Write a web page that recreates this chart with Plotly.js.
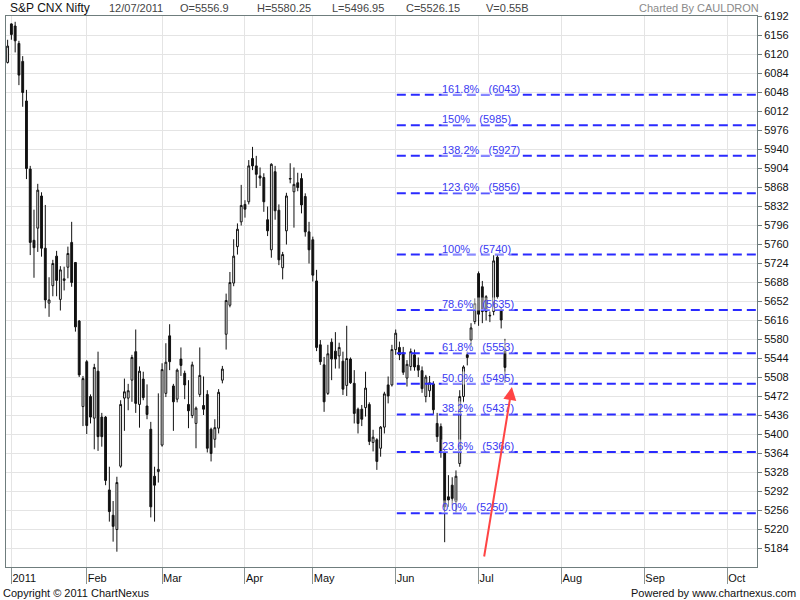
<!DOCTYPE html>
<html>
<head>
<meta charset="utf-8">
<script src="https://cdn.plot.ly/plotly-3.0.1.min.js"></script>
<style>html,body{margin:0;padding:0;background:#fff;}#chart{width:800px;height:600px;}</style>
</head>
<body>
<div id="chart"></div>
<script>
// Daily OHLC, S&P CNX Nifty, 31 Dec 2010 .. 12 Jul 2011 (trading-day order)
const openVals = [
6104,
6177,6173,6140,6106,6031,5902,5767,5790,5851,5752,5648,5681,5737,5655,5691,5716,5763,5725,5614,5452,
5537,5471,5430,5519,5432,5432,5294,5246,5219,5339,5468,5468,5502,5556,5456,5504,5453,5409,5320,5329,
5379,5477,5586,5491,5466,5542,5515,5456,5435,5420,5475,5454,5475,5409,5390,5411,5502,5589,5644,5686,5755,5802,
5835,5840,5922,5908,5889,5886,5806,5749,5897,5824,5715,5785,5883,5859,5876,5884,5850,5783,
5768,5690,5569,5531,5477,5574,5557,5548,5538,5492,5542,5496,5447,5447,5450,5456,5384,5389,5373,5413,5493,5493,
5560,5564,5554,5506,5528,5550,5530,5520,5471,5482,5495,5420,5414,5366,5281,5303,5272,5344,5471,5550,5578,5613,
5704,5679,5660,5625,5632,5735,5635,5556.9
];
const highVals = [
6147,
6178,6181,6145,6116,6052,5908,5825,5874,5858,5834,5697,5730,5747,5718,5717,5755,5802,5725,5616,5510,
5540,5475,5533,5556,5440,5434,5338,5273,5319,5464,5505,5495,5550,5598,5528,5518,5494,5423,5338,5477,
5534,5572,5608,5495,5524,5564,5520,5502,5537,5452,5564,5509,5483,5412,5428,5485,5529,5666,5707,5769,5799,5872,
5843,5919,5944,5927,5905,5894,5831,5913,5908,5835,5745,5857,5913,5905,5895,5894,5856,5802,
5774,5711,5578,5546,5569,5581,5593,5573,5556,5605,5545,5521,5450,5455,5518,5460,5408,5392,5415,5480,5509,5569,
5598,5575,5565,5540,5562,5560,5545,5528,5512,5510,5500,5440,5420,5370,5322,5318,5331,5483,5530,5556,5610,5657,
5708,5690,5663,5632,5739,5740,5640,5580.25
];
const lowVals = [
6102,
6147,6123,6061,6020,5883,5739,5696,5745,5736,5638,5622,5661,5661,5634,5672,5695,5679,5594,5508,5415,
5400,5420,5371,5368,5376,5303,5234,5196,5177,5336,5406,5445,5461,5440,5412,5464,5428,5242,5234,5308,
5376,5470,5521,5406,5460,5510,5466,5411,5430,5373,5470,5436,5365,5348,5374,5401,5496,5560,5640,5680,5740,5795,
5810,5835,5900,5866,5870,5821,5775,5734,5806,5720,5693,5759,5875,5791,5860,5818,5774,5723,
5689,5557,5531,5442,5474,5502,5524,5524,5474,5472,5495,5420,5401,5415,5433,5379,5367,5332,5357,5401,5458,5490,
5550,5540,5512,5490,5520,5520,5508,5478,5460,5470,5438,5385,5355,5195,5262,5265,5250,5338,5460,5530,5566,5608,
5605,5610,5615,5612,5625,5656,5600,5496.95
];
const closeVals = [
6135,
6157,6145,6080,6047,5903,5763,5753,5862,5752,5654,5654,5723,5691,5711,5694,5742,5687,5603,5512,5505,
5416,5432,5526,5395,5395,5312,5253,5225,5308,5456,5480,5482,5545,5458,5519,5469,5437,5262,5303,5333,
5522,5536,5537,5461,5521,5530,5493,5444,5531,5449,5511,5447,5373,5363,5412,5479,5523,5653,5687,5737,5788,5833,
5826,5908,5908,5892,5885,5840,5785,5911,5823,5730,5740,5851,5884,5873,5867,5834,5783,5749,
5701,5564,5537,5461,5552,5542,5542,5564,5485,5543,5497,5439,5420,5428,5487,5386,5394,5348,5413,5476,5472,5560,
5591,5550,5517,5532,5556,5527,5521,5486,5508,5497,5446,5395,5366,5262,5275,5278,5320,5471,5527,5545,5601,5647,
5627,5632,5632,5624,5728,5660,5616,5526.15
];
// first candle (31 Dec 2010) is trading day -1; 3 Jan 2011 is day 0
const firstDay = -1;

// month ticks (trading-day index) and labels
const monthTickDays = [0, 20, 40, 62, 80, 102, 124, 146, 168, 190];
const monthLabels = ['2011', 'Feb', 'Mar', 'Apr', 'May', 'Jun', 'Jul', 'Aug', 'Sep', 'Oct'];

// price axis ticks
const priceTicks = [5184,5220,5256,5292,5328,5364,5400,5436,5472,5508,5544,5580,5616,5652,5688,5724,5760,5796,5832,5868,5904,5940,5976,6012,6048,6084,6120,6156,6192];

// Fibonacci levels
const fibPercents = ['0.0%', '23.6%', '38.2%', '50.0%', '61.8%', '78.6%', '100%', '123.6%', '138.2%', '150%', '161.8%'];
const fibValues = [5250, 5366, 5437, 5495, 5553, 5635, 5740, 5856, 5927, 5985, 6043];
const fibStartDay = 102.3;
const fibLabelDay = 114;

// arrow tip (trading day, price)
const arrowTip = {day: 132.85, price: 5489};

// header
const header = {name: 'S&P CNX Nifty', date: '12/07/2011', O: '5556.9', H: '5580.25', L: '5496.95', C: '5526.15', V: '0.55B'};

const W = 800, H = 600;
const M = {l: 6, r: 43, t: 16, b: 33};
const PW = W - M.l - M.r, PH = H - M.t - M.b;
const xRange = [-1.43, 197.9];
const yRange = [5148, 6192];
const px = x => (x - M.l) / PW;
const py = y => (H - M.b - y) / PH;
const FONT = 'Liberation Sans, Arial, sans-serif';

const days = openVals.map((_, k) => firstDay + k);

const traces = [{
  type: 'candlestick',
  x: days, open: openVals, high: highVals, low: lowVals, close: closeVals,
  increasing: {line: {color: '#111', width: 1}, fillcolor: '#ffffff'},
  decreasing: {line: {color: '#111', width: 1}, fillcolor: '#111111'},
  whiskerwidth: 0,
  hoverinfo: 'none',
  showlegend: false
}];

fibValues.forEach(v => {
  traces.push({
    type: 'scatter', mode: 'lines',
    x: [fibStartDay, xRange[1] + 2], y: [v, v],
    line: {color: '#2a2aff', width: 2, dash: '9px,5px'},
    hoverinfo: 'none', showlegend: false
  });
});

const NB = '\u00a0\u00a0\u00a0';
const annotations = [];
fibValues.forEach((v, k) => {
  annotations.push({
    xref: 'x', yref: 'y', x: fibLabelDay, y: v,
    text: fibPercents[k] + NB + '(' + v + ')',
    showarrow: false, xanchor: 'left', yanchor: 'bottom', yshift: -1,
    font: {family: FONT, size: 11, color: '#3a3af2'},
    bgcolor: 'rgba(255,255,255,0.45)', borderpad: 0
  });
});

annotations.push({
  xref: 'x', yref: 'y', x: arrowTip.day, y: arrowTip.price,
  ax: -28, ay: 171, axref: 'pixel', ayref: 'pixel',
  text: '', showarrow: true, arrowhead: 2, arrowsize: 1.3, arrowwidth: 2,
  arrowcolor: '#ff4444', standoff: 0
});

const headerItems = [
  [header.name, 8, 12, '#111'],
  [header.date, 107, 11, '#444'],
  ['O=' + header.O, 178, 11, '#444'],
  ['H=' + header.H, 255, 11, '#444'],
  ['L=' + header.L, 330, 11, '#444'],
  ['C=' + header.C, 404, 11, '#444'],
  ['V=' + header.V, 484, 11, '#444']
];
headerItems.forEach(h => {
  annotations.push({
    xref: 'paper', yref: 'paper', x: px(h[1]), y: py(8),
    text: h[0], showarrow: false, xanchor: 'left', yanchor: 'middle',
    font: {family: FONT, size: h[2], color: h[3]}
  });
});
annotations.push({
  xref: 'paper', yref: 'paper', x: px(761), y: py(8),
  text: 'Charted By CAULDRON', showarrow: false, xanchor: 'right', yanchor: 'middle',
  font: {family: FONT, size: 11, color: '#8a8a8a'}
});
annotations.push({
  xref: 'paper', yref: 'paper', x: px(1), y: py(593),
  text: 'Copyright \u00a9 2011 ChartNexus', showarrow: false, xanchor: 'left', yanchor: 'middle',
  font: {family: FONT, size: 11, color: '#111'}
});
annotations.push({
  xref: 'paper', yref: 'paper', x: px(798), y: py(593),
  text: 'Powered by www.chartnexus.com', showarrow: false, xanchor: 'right', yanchor: 'middle',
  font: {family: FONT, size: 11, color: '#111'}
});

const layout = {
  width: W, height: H,
  margin: {l: M.l, r: M.r, t: M.t, b: M.b, pad: 0},
  paper_bgcolor: '#ffffff', plot_bgcolor: '#ffffff',
  showlegend: false,
  xaxis: {
    type: 'linear', range: xRange, fixedrange: true,
    rangeslider: {visible: false},
    tickmode: 'array', tickvals: monthTickDays, ticktext: monthLabels,
    ticks: 'outside', ticklen: 16, tickcolor: '#8a9494', tickwidth: 1,
    ticklabelposition: 'outside right', ticklabelstandoff: 1,
    tickfont: {family: FONT, size: 11, color: '#111'},
    showgrid: true, gridcolor: '#e4e4e4', gridwidth: 1,
    showline: true, linecolor: '#6f7d7d', linewidth: 1, mirror: true,
    zeroline: false
  },
  yaxis: {
    side: 'right', range: yRange, fixedrange: true,
    tickmode: 'array', tickvals: priceTicks, ticktext: priceTicks.map(String),
    ticks: 'outside', ticklen: 4, tickcolor: '#6f7d7d',
    tickfont: {family: FONT, size: 11, color: '#111'},
    showgrid: true, gridcolor: '#e4e4e4', gridwidth: 1,
    showline: true, linecolor: '#6f7d7d', linewidth: 1, mirror: true,
    zeroline: false
  },
  annotations: annotations
};

Plotly.newPlot('chart', traces, layout, {staticPlot: true, displayModeBar: false});
</script>
</body>
</html>
